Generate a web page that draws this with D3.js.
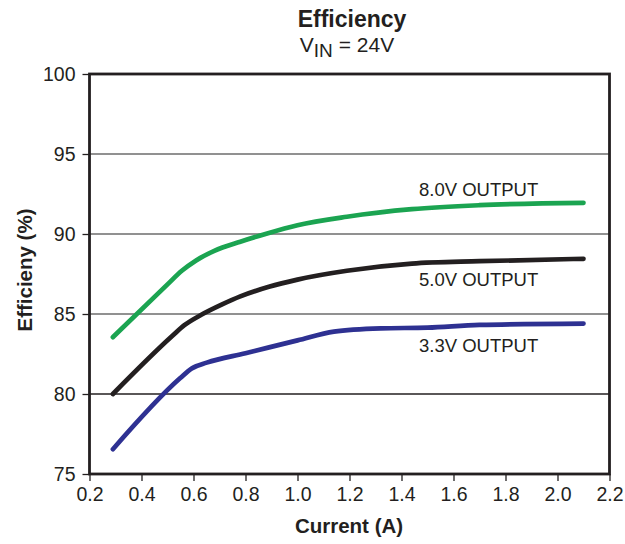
<!DOCTYPE html>
<html>
<head>
<meta charset="utf-8">
<script src="https://cdn.jsdelivr.net/npm/d3@7"></script>
<style>
  body { margin: 0; background: #fff; }
  text { font-family: "Liberation Sans", Arial, Helvetica, sans-serif; fill: #231f20; }
</style>
</head>
<body>
<svg width="625" height="544"></svg>
<script>
// values
const current8 = [0.29, 0.5, 0.555, 0.61, 0.68, 0.78, 0.88, 1.0, 1.19, 1.44, 1.7, 2.1];
const eff8     = [83.55, 86.85, 87.7, 88.35, 88.95, 89.52, 90.02, 90.55, 91.08, 91.55, 91.8, 91.95];

const current5 = [0.29, 0.52, 0.565, 0.63, 0.71, 0.78, 0.89, 1.0, 1.19, 1.44, 1.7, 2.1];
const eff5     = [80.0, 83.65, 84.3, 84.95, 85.6, 86.1, 86.7, 87.15, 87.7, 88.15, 88.3, 88.45];

const current33 = [0.29, 0.548, 0.593, 0.651, 0.8, 1.0, 1.14, 1.32, 1.5, 1.7, 2.1];
const eff33     = [76.55, 80.98, 81.6, 81.96, 82.55, 83.35, 83.9, 84.1, 84.15, 84.32, 84.4];

const seriesNames = ['8.0V OUTPUT', '5.0V OUTPUT', '3.3V OUTPUT'];
const seriesColors = ['#1ba451', '#231f20', '#2e3192'];

const xTicks = [0.2, 0.4, 0.6, 0.8, 1.0, 1.2, 1.4, 1.6, 1.8, 2.0, 2.2];
const yTicks = [75, 80, 85, 90, 95, 100];

const plotL = 89.5, plotR = 609.5, plotT = 74, plotB = 474;

const x = d3.scaleLinear().domain([0.2, 2.2]).range([plotL, plotR]);
const y = d3.scaleLinear().domain([75, 100]).range([plotB, plotT]);

const svg = d3.select('svg');

// grid lines (the 80 line is drawn darker in the original)
svg.selectAll('.grid')
  .data(yTicks.slice(1, -1))
  .enter()
  .append('line')
  .attr('x1', plotL).attr('x2', plotR)
  .attr('y1', d => y(d)).attr('y2', d => y(d))
  .attr('stroke', d => d === 80 ? '#231f20' : '#6d6d6d')
  .attr('stroke-width', d => d === 80 ? 1.3 : 1.6);

// axes
const yAxis = svg.append('g')
  .attr('transform', `translate(${plotL},0)`)
  .call(d3.axisLeft(y).tickValues(yTicks).tickSize(7).tickPadding(7).tickFormat(d3.format('d')));

const xAxis = svg.append('g')
  .attr('transform', `translate(0,${plotB})`)
  .call(d3.axisBottom(x).tickValues(xTicks).tickSize(7).tickPadding(6).tickFormat(d3.format('.1f')));

[yAxis, xAxis].forEach(g => {
  g.select('.domain').remove();
  g.selectAll('line').attr('stroke', '#231f20').attr('stroke-width', 1.3);
  g.selectAll('text').style('font-size', '19.5px').attr('fill', '#231f20');
});

// frame
svg.append('rect')
  .attr('x', plotL).attr('y', plotT)
  .attr('width', plotR - plotL).attr('height', plotB - plotT)
  .attr('fill', 'none')
  .attr('stroke', '#231f20')
  .attr('stroke-width', 2.8);

// curves
const allCurrents = [current8, current5, current33];
const allEff = [eff8, eff5, eff33];

const line = d3.line()
  .x(d => x(d[0]))
  .y(d => y(d[1]))
  .curve(d3.curveMonotoneX);

svg.selectAll('.curve')
  .data(allCurrents.map((c, i) => c.map((v, j) => [v, allEff[i][j]])))
  .enter()
  .append('path')
  .classed('curve', true)
  .attr('d', line)
  .attr('fill', 'none')
  .attr('stroke', (d, i) => seriesColors[i])
  .attr('stroke-width', 4.7)
  .attr('stroke-linecap', 'round')
  .attr('stroke-linejoin', 'round');

// series labels
const labelY = [196, 286, 352];
svg.selectAll('.lbl')
  .data(seriesNames)
  .enter()
  .append('text')
  .attr('x', 419)
  .attr('y', (d, i) => labelY[i])
  .style('font-size', '18.5px')
  .text(d => d);

// titles
svg.append('text')
  .attr('x', 352).attr('y', 27)
  .attr('text-anchor', 'middle')
  .style('font-size', '23px').style('font-weight', 'bold')
  .text('Efficiency');

const sub = svg.append('text')
  .attr('x', 347).attr('y', 52)
  .attr('text-anchor', 'middle')
  .style('font-size', '21px');
sub.append('tspan').text('V');
sub.append('tspan').attr('dy', 5).style('font-size', '19px').text('IN');
sub.append('tspan').attr('dy', -5).text(' = 24V');

svg.append('text')
  .attr('x', 349).attr('y', 533)
  .attr('text-anchor', 'middle')
  .style('font-size', '20.5px').style('font-weight', 'bold')
  .text('Current (A)');

svg.append('text')
  .attr('transform', 'translate(32,270) rotate(-90)')
  .attr('text-anchor', 'middle')
  .style('font-size', '20.5px').style('font-weight', 'bold')
  .text('Efficieny (%)');
</script>
</body>
</html>
